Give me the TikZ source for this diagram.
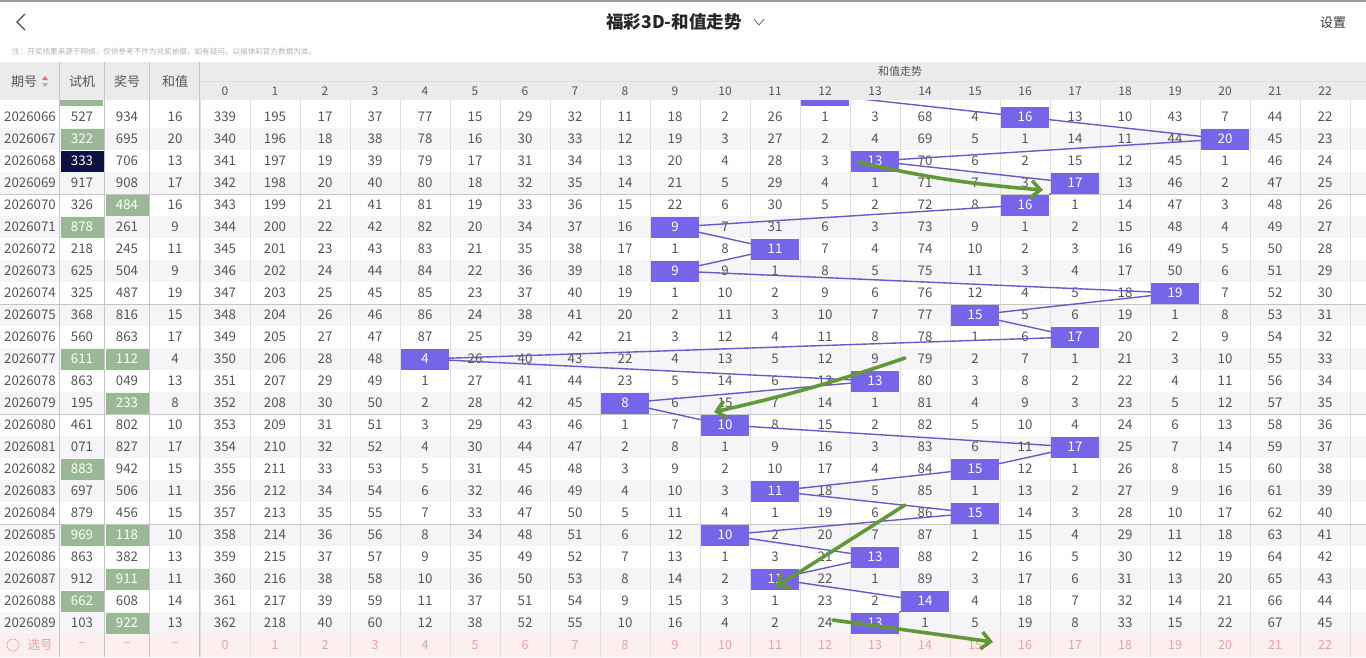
\documentclass[tikz,border=0pt]{standalone}
\usepackage{fontspec}
\setmainfont{Noto Sans CJK SC}
\usetikzlibrary{arrows.meta}

\definecolor{textgray}{HTML}{555555}
\definecolor{headgray}{HTML}{EBEBEB}
\definecolor{rowgray}{HTML}{F5F5F7}
\definecolor{gridgray}{HTML}{DEDEDE}
\definecolor{sepgray}{HTML}{C6C6C6}
\definecolor{boxpurple}{RGB}{118,100,233}
\definecolor{linepurple}{RGB}{104,90,200}
\definecolor{shigreen}{RGB}{155,184,150}
\definecolor{darknavy}{HTML}{0B1140}
\definecolor{arrowgreen}{RGB}{98,152,58}
\definecolor{pinkbg}{HTML}{FDEFEF}
\definecolor{pinktext}{HTML}{E8A2A2}

\tikzset{
  numcell/.style={text=textgray, font=\fontsize{13.3}{13.3}\selectfont},
  greencell/.style={numcell, fill=shigreen, text=white, minimum width=43pt, minimum height=21pt, inner sep=0pt},
  darkcell/.style={greencell, fill=darknavy},
  hitbox/.style={fill=boxpurple, text=white, minimum width=48pt, minimum height=21pt, inner sep=0pt, font=\fontsize{13.3}{13.3}\selectfont},
  headtext/.style={text=textgray, font=\fontsize{13}{13}\selectfont},
  colhead/.style={text=textgray, font=\fontsize{12}{12}\selectfont},
  picktext/.style={text=pinktext, font=\fontsize{12.5}{12.5}\selectfont},
  trend/.style={draw=linepurple, line width=1.4pt},
  hint/.style={draw=arrowgreen, line width=3.6pt, line cap=round, -{Straight Barb[length=9pt,width=17pt,line width=3.6pt]}},
}

\begin{document}
\begin{tikzpicture}[x=1pt,y=-1pt]
\useasboundingbox (0,0) rectangle (1366,657);
\fill[white] (0,0) rectangle (1366,657);

% title bar
\fill[black!40] (0,0) rectangle (1366,1.5);
\draw[black!70, line width=1.1pt] (25,14) -- (17,22) -- (25,30);
\node[text=black!85, font=\fontsize{17.5}{17.5}\bfseries] (title) at (674,22) {福彩3D-和值走势};
\draw[black!60, line width=0.8pt] (754,19) -- (759,25) -- (764,19);
\node[text=black!80, font=\fontsize{13}{13}\selectfont] (setup) at (1333,23) {设置};
\node[anchor=west, text=black!30, font=\fontsize{7.6}{7.6}\selectfont, inner sep=0pt] (note) at (12,52)
  {注：开奖结果来源于网络，仅供参考不作为兑奖依据，如有疑问，以福体彩官方数据为准。};

% header
\fill[headgray] (0,62) rectangle (1366,100);
\node[headtext] (hqi) at (24,82) {期号};
\fill[red!60] (42,80) -- (45,76) -- (48,80) -- cycle;
\fill[black!30] (42,83) -- (45,87) -- (48,83) -- cycle;
\node[headtext] (hshi) at (82,82) {试机};
\node[headtext] (hjiang) at (127,82) {奖号};
\node[headtext] (hhe) at (175,82) {和值};
\node[colhead, font=\fontsize{11}{11}\selectfont] (htrend) at (900,71) {和值走势};
\draw[gridgray] (200,81) -- (1366,81);
\foreach \c in {0,...,22}
  \node[colhead] at (225+50*\c,91) {\c};

\begin{scope}
\clip (0,100) rectangle (1366,657);
% row shading
\foreach \r in {2,4,...,24}
  \fill[rowgray] (0,84+22*\r) rectangle (1366,106+22*\r);
% select row
\fill[pinkbg] (0,634) rectangle (1366,657);
% grid
\foreach \c in {0,...,23}
  \draw[gridgray] (200+50*\c,81) -- (200+50*\c,657);
\foreach \yy in {194,304,414,524}
  \draw[sepgray, line width=0.8pt] (0,\yy) -- (1366,\yy);

% previous draw, cut off
\fill[shigreen] (60,85) rectangle (103,105.5);
\node[hitbox] (b0) at (825,95) {};

% rows
\foreach \r/\iss/\sj/\sjs/\jh/\jhs/\sm/\vals in {
 1/2026066/527/numcell/934/numcell/16/{339,195,17,37,77,15,29,32,11,18,2,26,1,3,68,4,16,13,10,43,7,44,22},
 2/2026067/322/greencell/695/numcell/20/{340,196,18,38,78,16,30,33,12,19,3,27,2,4,69,5,1,14,11,44,20,45,23},
 3/2026068/333/darkcell/706/numcell/13/{341,197,19,39,79,17,31,34,13,20,4,28,3,13,70,6,2,15,12,45,1,46,24},
 4/2026069/917/numcell/908/numcell/17/{342,198,20,40,80,18,32,35,14,21,5,29,4,1,71,7,3,17,13,46,2,47,25},
 5/2026070/326/numcell/484/greencell/16/{343,199,21,41,81,19,33,36,15,22,6,30,5,2,72,8,16,1,14,47,3,48,26},
 6/2026071/878/greencell/261/numcell/9/{344,200,22,42,82,20,34,37,16,9,7,31,6,3,73,9,1,2,15,48,4,49,27},
 7/2026072/218/numcell/245/numcell/11/{345,201,23,43,83,21,35,38,17,1,8,11,7,4,74,10,2,3,16,49,5,50,28},
 8/2026073/625/numcell/504/numcell/9/{346,202,24,44,84,22,36,39,18,9,9,1,8,5,75,11,3,4,17,50,6,51,29},
 9/2026074/325/numcell/487/numcell/19/{347,203,25,45,85,23,37,40,19,1,10,2,9,6,76,12,4,5,18,19,7,52,30},
 10/2026075/368/numcell/816/numcell/15/{348,204,26,46,86,24,38,41,20,2,11,3,10,7,77,15,5,6,19,1,8,53,31},
 11/2026076/560/numcell/863/numcell/17/{349,205,27,47,87,25,39,42,21,3,12,4,11,8,78,1,6,17,20,2,9,54,32},
 12/2026077/611/greencell/112/greencell/4/{350,206,28,48,4,26,40,43,22,4,13,5,12,9,79,2,7,1,21,3,10,55,33},
 13/2026078/863/numcell/049/numcell/13/{351,207,29,49,1,27,41,44,23,5,14,6,13,13,80,3,8,2,22,4,11,56,34},
 14/2026079/195/numcell/233/greencell/8/{352,208,30,50,2,28,42,45,8,6,15,7,14,1,81,4,9,3,23,5,12,57,35},
 15/2026080/461/numcell/802/numcell/10/{353,209,31,51,3,29,43,46,1,7,10,8,15,2,82,5,10,4,24,6,13,58,36},
 16/2026081/071/numcell/827/numcell/17/{354,210,32,52,4,30,44,47,2,8,1,9,16,3,83,6,11,17,25,7,14,59,37},
 17/2026082/883/greencell/942/numcell/15/{355,211,33,53,5,31,45,48,3,9,2,10,17,4,84,15,12,1,26,8,15,60,38},
 18/2026083/697/numcell/506/numcell/11/{356,212,34,54,6,32,46,49,4,10,3,11,18,5,85,1,13,2,27,9,16,61,39},
 19/2026084/879/numcell/456/numcell/15/{357,213,35,55,7,33,47,50,5,11,4,1,19,6,86,15,14,3,28,10,17,62,40},
 20/2026085/969/greencell/118/greencell/10/{358,214,36,56,8,34,48,51,6,12,10,2,20,7,87,1,15,4,29,11,18,63,41},
 21/2026086/863/numcell/382/numcell/13/{359,215,37,57,9,35,49,52,7,13,1,3,21,13,88,2,16,5,30,12,19,64,42},
 22/2026087/912/numcell/911/greencell/11/{360,216,38,58,10,36,50,53,8,14,2,11,22,1,89,3,17,6,31,13,20,65,43},
 23/2026088/662/greencell/608/numcell/14/{361,217,39,59,11,37,51,54,9,15,3,1,23,2,14,4,18,7,32,14,21,66,44},
 24/2026089/103/numcell/922/greencell/13/{362,218,40,60,12,38,52,55,10,16,4,2,24,13,1,5,19,8,33,15,22,67,45}}{
  \pgfmathsetmacro{\y}{95+22*\r}
  \node[numcell] at (30,\y) {\iss};
  \node[\sjs] at (82,\y) {\sj};
  \node[\jhs] at (127,\y) {\jh};
  \node[numcell] at (175,\y) {\sm};
  \foreach \v [count=\c from 0] in \vals {
    \ifnum\c=\sm\relax
      \node[hitbox] (b\r) at (225+50*\c,\y) {\v};
    \else
      \node[numcell] at (225+50*\c,\y) {\v};
    \fi
  }
}

% select row
\draw[pinktext, line width=0.6pt] (13,645) circle (6);
\node[picktext] (pick) at (40,645) {选号};
\foreach \x in {82,127,175}
  \node[picktext] at (\x,645) {–};
\foreach \c in {0,...,22}
  \node[picktext] at (225+50*\c,645) {\c};

% trend line
\foreach \r [evaluate=\r as \n using int(\r+1)] in {0,...,23}
  \draw[trend] (b\r) -- (b\n);
\end{scope}

% column separators
\foreach \x in {59.5,104.5,149.5,199.5}
  \draw[sepgray, line width=1.2pt] (\x,62) -- (\x,657);

% hand drawn arrows
\coordinate (g1s) at (858,162);
\coordinate (g1e) at (1043,190);
\coordinate (g2s) at (905,358);
\coordinate (g2e) at (714,412);
\coordinate (g3s) at (905,505);
\coordinate (g3e) at (776,587);
\coordinate (g4s) at (833,620);
\coordinate (g4e) at (993,642);
\draw[hint] (g1s) to[bend right=4] (g1e);
\draw[hint] (g2s) to[bend left=3] (g2e);
\draw[hint] (g3s) -- (g3e);
\draw[hint] (g4s) -- (g4e);
\end{tikzpicture}
\end{document}
